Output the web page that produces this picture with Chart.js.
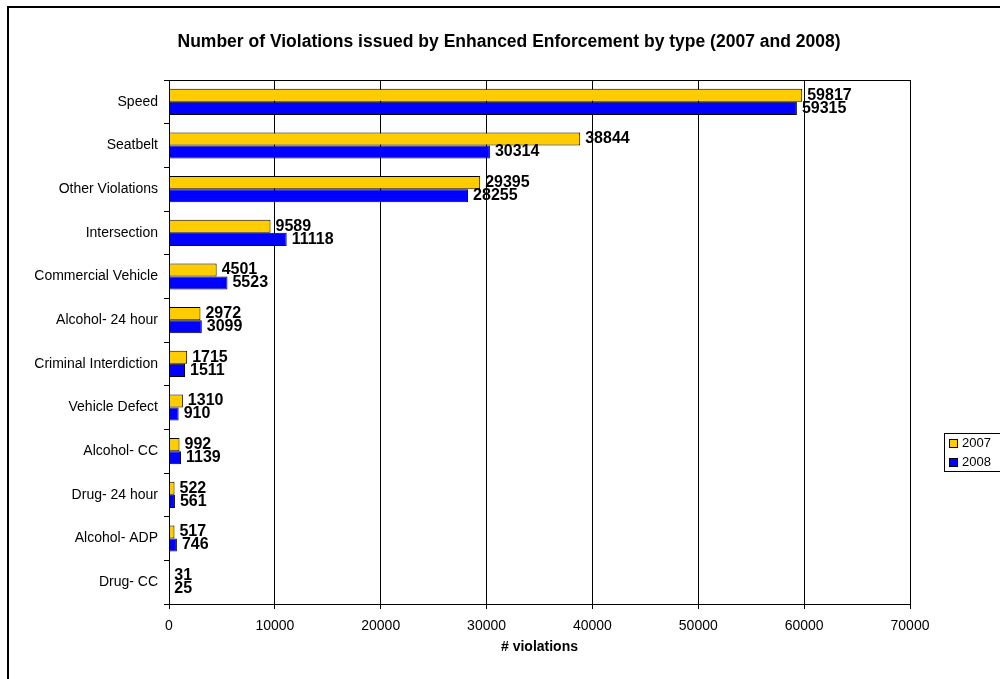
<!DOCTYPE html>
<html>
<head>
<meta charset="utf-8">
<script src="https://cdn.jsdelivr.net/npm/chart.js@4.4.1/dist/chart.umd.min.js"></script>
<style>
  html, body { margin: 0; padding: 0; background: #fff; }
  #grafico { display: block; }
</style>
</head>
<body>
<canvas id="grafico" width="1000" height="679"></canvas>
<script>
// dados do gráfico
const categorias = ['Speed', 'Seatbelt', 'Other Violations', 'Intersection', 'Commercial Vehicle',
  'Alcohol- 24 hour', 'Criminal Interdiction', 'Vehicle Defect', 'Alcohol- CC', 'Drug- 24 hour',
  'Alcohol- ADP', 'Drug- CC'];
const valores2007 = [59817, 38844, 29395, 9589, 4501, 2972, 1715, 1310, 992, 522, 517, 31];
const valores2008 = [59315, 30314, 28255, 11118, 5523, 3099, 1511, 910, 1139, 561, 746, 25];
const series = ['2007', '2008'];
const eixoX = { min: 0, max: 70000, passo: 10000 };
const titulo = 'Number of Violations issued by Enhanced Enforcement by type (2007 and 2008)';
const tituloEixoX = '# violations';

const FONTE = '"Liberation Sans", Arial, sans-serif';

// moldura, título, borda da área do gráfico, rótulos e legenda
const extras = {
  id: 'extras',
  beforeDraw(chart) {
    const ctx = chart.ctx;
    ctx.save();
    ctx.fillStyle = '#fff';
    ctx.fillRect(0, 0, chart.width, chart.height);
    ctx.restore();
  },
  afterDatasetsDraw(chart) {
    const ctx = chart.ctx;
    ctx.save();
    ctx.font = 'bold 16px ' + FONTE;
    ctx.fillStyle = '#000';
    ctx.textBaseline = 'middle';
    ctx.textAlign = 'left';
    chart.data.datasets.forEach((ds, i) => {
      const meta = chart.getDatasetMeta(i);
      meta.data.forEach((barra, j) => {
        ctx.fillText(String(ds.data[j]), barra.x + 5, barra.y);
      });
    });
    ctx.restore();
  },
  afterDraw(chart) {
    const ctx = chart.ctx;
    const a = chart.chartArea;
    ctx.save();
    // moldura externa
    ctx.fillStyle = '#000';
    ctx.fillRect(7, 6, chart.width, 2);
    ctx.fillRect(7, 6, 2, chart.height);
    // borda da área de plotagem
    ctx.strokeStyle = '#000';
    ctx.lineWidth = 1;
    ctx.strokeRect(Math.round(a.left) + 0.5, Math.round(a.top) + 0.5,
      Math.round(a.right - a.left), Math.round(a.bottom - a.top));
    // título
    ctx.font = 'bold 17.5px ' + FONTE;
    ctx.textAlign = 'center';
    ctx.textBaseline = 'middle';
    ctx.fillText(titulo, 509, 42);
    // legenda
    ctx.strokeRect(944.5, 433.5, 60, 38);
    ctx.font = '13px ' + FONTE;
    ctx.textAlign = 'left';
    chart.data.datasets.forEach((ds, i) => {
      const y = 443 + i * 19;
      ctx.fillStyle = ds.backgroundColor;
      ctx.fillRect(949, y - 4, 8, 8);
      ctx.strokeRect(949.5, y - 4 + 0.5, 8, 8);
      ctx.fillStyle = '#000';
      ctx.fillText(ds.label, 962, y);
    });
    ctx.restore();
  }
};

new Chart(document.getElementById('grafico'), {
  type: 'bar',
  data: {
    labels: categorias,
    datasets: [
      { label: series[0], data: valores2007, backgroundColor: '#FFCC00', borderColor: '#000', borderWidth: 1 },
      { label: series[1], data: valores2008, backgroundColor: '#0000FF', borderColor: '#000', borderWidth: 1 }
    ]
  },
  options: {
    indexAxis: 'y',
    responsive: false,
    animation: false,
    devicePixelRatio: 1,
    layout: { padding: { top: 80, right: 90, left: 0, bottom: 0 } },
    datasets: { bar: { barPercentage: 1.0, categoryPercentage: 0.6 } },
    plugins: {
      legend: { display: false },
      title: { display: false },
      tooltip: { enabled: false }
    },
    scales: {
      x: {
        min: eixoX.min,
        max: eixoX.max,
        afterFit(s) { s.height = 75; },
        ticks: {
          stepSize: eixoX.passo,
          color: '#000',
          padding: 9,
          font: { family: FONTE, size: 14 },
          callback: v => String(v)
        },
        grid: { color: '#000', lineWidth: 1, tickLength: 5 },
        border: { color: '#000', width: 1 },
        title: {
          display: true,
          text: tituloEixoX,
          color: '#000',
          font: { family: FONTE, size: 14, weight: 'bold' },
          padding: { top: 0, bottom: 23 }
        }
      },
      y: {
        afterFit(s) { s.width = 169; },
        ticks: {
          color: '#000',
          padding: 6,
          font: { family: FONTE, size: 14 }
        },
        grid: { drawOnChartArea: false, color: '#000', tickLength: 5 },
        border: { color: '#000', width: 1 }
      }
    }
  },
  plugins: [extras]
});
</script>
</body>
</html>
